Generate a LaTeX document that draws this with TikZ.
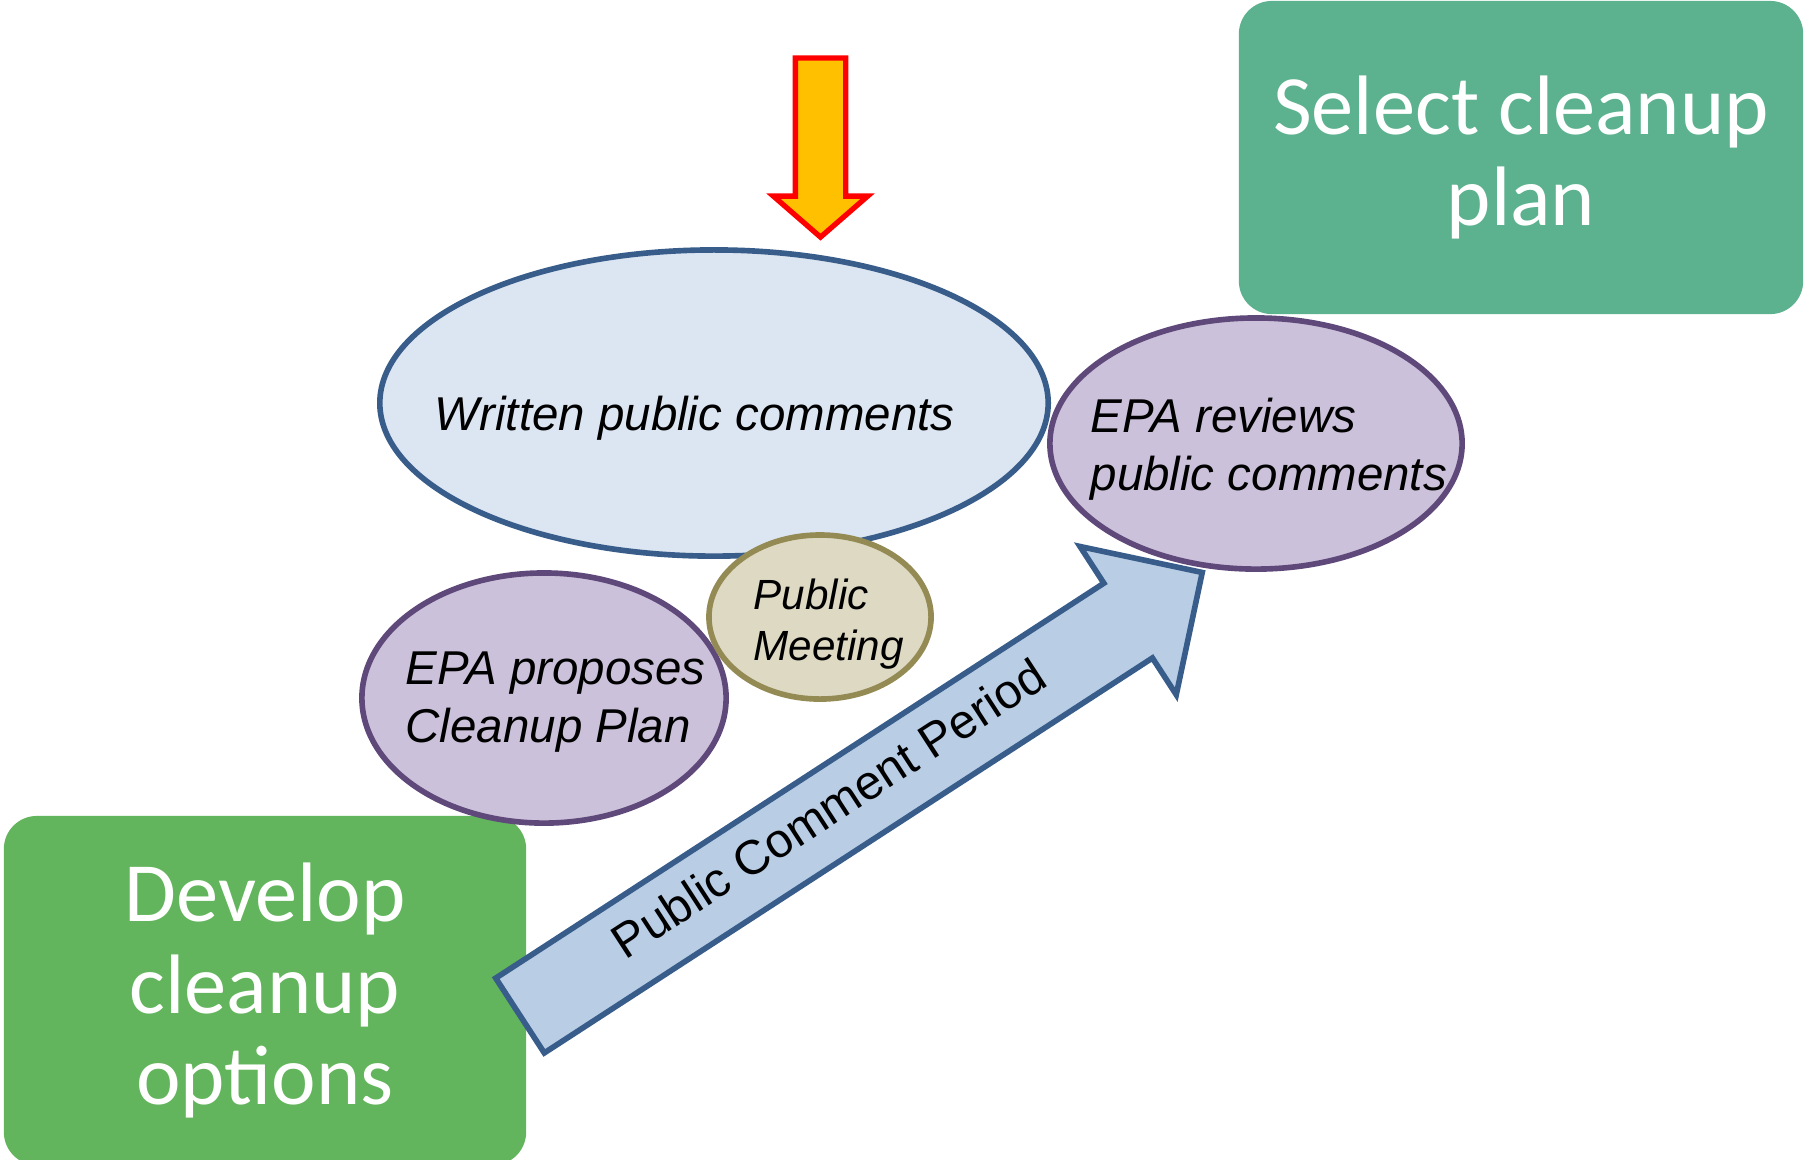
\documentclass[tikz,border=0pt]{standalone}
\usepackage{fontspec}
\setmainfont{Liberation Sans}
\newfontfamily\calibri{Carlito}
\usepackage{tikz}
\usetikzlibrary{shapes.geometric, shapes.arrows}

\definecolor{vertsel}{RGB}{92,177,143}
\definecolor{vertdev}{RGB}{98,181,92}
\definecolor{bleufond}{RGB}{220,230,242}
\definecolor{bleutrait}{RGB}{56,93,138}
\definecolor{bleufleche}{RGB}{185,205,229}
\definecolor{mauvefond}{RGB}{204,193,218}
\definecolor{mauvetrait}{RGB}{95,73,122}
\definecolor{olivefond}{RGB}{221,217,195}
\definecolor{olivetrait}{RGB}{148,138,84}
\definecolor{jaune}{RGB}{255,192,0}

\begin{document}
\begin{tikzpicture}[
  x=0.01cm, y=-0.01cm,
  etape/.style={
    rectangle,
    rounded corners=0.33cm,
    text=white,
    font=\calibri\fontsize{24}{26}\selectfont,
    align=center,
    inner sep=0pt
  },
  bulle/.style={
    ellipse,
    line width=1.6pt,
    inner sep=0pt
  },
  legende/.style={
    font=\itshape\fontsize{13.5}{16.4}\selectfont,
    align=left,
    anchor=base west,
    inner sep=0pt
  },
  fleche/.style={
    single arrow,
    outer sep=0pt,
    anchor=tail,
    line width=1.6pt
  }
]
\useasboundingbox (0,0) rectangle (1804,1159);

% Étapes
\node[etape, fill=vertsel, minimum width=5.64cm, minimum height=3.13cm]
  (sel) at (1521,157.5) {Select cleanup\\plan};
\node[etape, fill=vertdev, minimum width=5.22cm, minimum height=3.49cm]
  (dev) at (265,990.5) {Develop\\cleanup\\options};

% Bulles
\node[bulle, draw=bleutrait, fill=bleufond,
  minimum width=6.68cm, minimum height=3.06cm] (ecr) at (714,403) {};
\node[bulle, draw=mauvetrait, fill=mauvefond,
  minimum width=4.12cm, minimum height=2.51cm] (rev) at (1256,443.5) {};
\node[bulle, draw=mauvetrait, fill=mauvefond,
  minimum width=3.64cm, minimum height=2.50cm] (prop) at (544,698) {};
\node[bulle, draw=olivetrait, fill=olivefond,
  minimum width=2.22cm, minimum height=1.64cm] (reu) at (820,617) {};

% Période de commentaires
\node[fleche, rotate=33, draw=bleutrait, fill=bleufleche,
  minimum height=8.13cm, single arrow head extend=0.4375cm,
  single arrow tip angle=90,
  text height=0.32cm, text depth=0.106cm, inner ysep=0.2045cm]
  (periode) at (520,1015.5) {};
\node[rotate=33, inner sep=0pt, font=\fontsize{13.7}{16.4}\selectfont]
  (t-periode) at (828,808) {Public Comment Period};

% Flèche d'entrée
\node[fleche, rotate=-90, draw=red, fill=jaune, line width=1.5pt,
  minimum height=1.79cm, single arrow head extend=0.22cm,
  single arrow tip angle=98, inner ysep=0.225cm, inner xsep=0pt]
  (entree) at (820.5,58) {};

% Textes des bulles
\node[legende] (t-ecr) at (434,430) {Written public comments};
\node[legende] (t-rev) at (1090,490) {EPA reviews\\public comments};
\node[legende] (t-prop) at (405,742) {EPA proposes\\Cleanup Plan};
\node[legende, font=\itshape\fontsize{12}{14.5}\selectfont]
  (t-reu) at (753,660) {Public\\Meeting};

\end{tikzpicture}
\end{document}
